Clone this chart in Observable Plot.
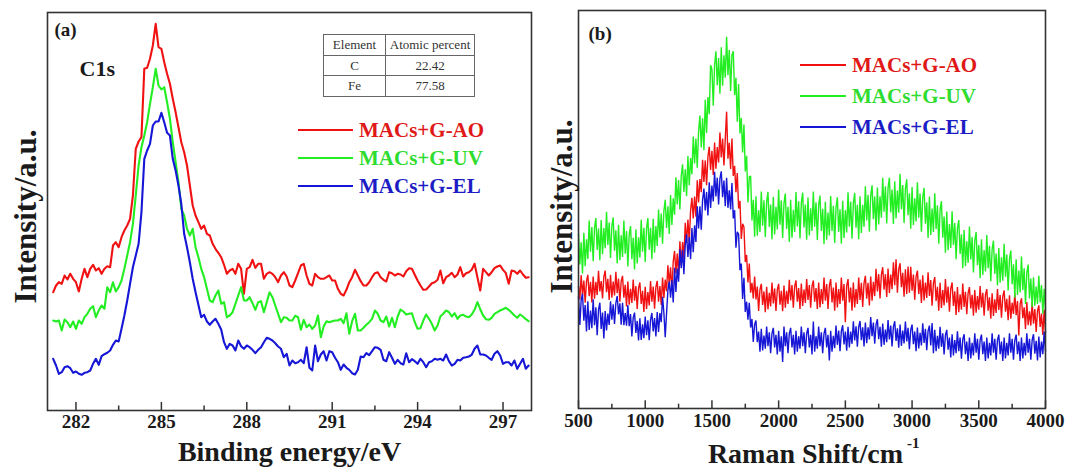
<!DOCTYPE html>
<html>
<head>
<meta charset="utf-8">
<script src="https://cdn.jsdelivr.net/npm/d3@7"></script>
<script src="https://cdn.jsdelivr.net/npm/@observablehq/plot@0.6"></script>
<style>
  html, body { margin: 0; padding: 0; background: #fff; }
  #wrap { position: relative; width: 1067px; height: 469px; overflow: hidden; background: #fff;
          font-family: "Liberation Serif", "Times New Roman", serif; }
  table.inset { position: absolute; border-collapse: collapse; font-size: 13px; color: #333;
                border: 1.8px solid #555; font-family: "Liberation Serif", serif; }
  table.inset td { border: 1px solid #666; text-align: center; padding: 0; height: 19.5px; line-height: 19.5px; }
  .leg { position: absolute; display: flex; align-items: center; font-weight: bold; font-size: 21px; white-space: nowrap; }
  .leg span.ln { display: inline-block; height: 2.5px; margin-right: 6px; }
</style>
</head>
<body>
<div id="wrap"></div>
<script>
// ---------------- Data ----------------
const seriesNames = ["MACs+G-AO", "MACs+G-UV", "MACs+G-EL"];
const lineColors = ["#f01212", "#22ee22", "#1616d6"];
const textColors = ["#e01818", "#2fdc2f", "#1c1cc4"];

// (a) XPS C1s: binding energy grid (eV), 0.1 eV steps 281.2 .. 297.9
const xpsEnergy = d3.range(2812, 2980).map(d => d / 10);
const xpsTicks = [282, 285, 288, 291, 294, 297];
const xpsMinorTicks = [283.5, 286.5, 289.5, 292.5, 295.5];

const xpsAO = [
  118.3,125,128.3,126.7,135,131,136.7,131.7,
  128.3,119,131.7,141.7,133.3,141.7,145.7,140,142.3,136.7,
  141.7,144.3,143.3,165,168.3,163.3,173.3,180,185,191.7,
  215,261.7,269,273.3,341.7,342.7,351.7,365,386.7,363.3,
  361.7,348.3,336.7,326.7,311.7,298.3,283.3,268.3,258.3,245,
  225,205,195,188.3,181.7,185,176.7,175,166.7,161.7,
  157.7,153.3,145.7,136.7,140,141.7,136.7,146.7,141.7,116.7,
  141.7,143.3,150.7,142.7,146.7,146.7,131.7,136.7,138.3,136.7,
  133.3,128.3,135,138.3,134,125,123.3,130,137.3,145,
  146.7,135,126.7,125,136.7,133.3,131.7,131.7,133.3,135,
  130,130,121.7,116.7,115,120.7,128.3,133.3,140.7,135,
  129.3,125,125,128.3,133.3,137.3,138.3,133.3,130.7,129,
  138.3,137.3,135,136.7,136,134,139.3,142.3,141.7,135.7,
  130,125,120.7,121,124,127.3,128.3,130.7,140,127.3,
  133.3,135,137.7,133.3,136,143.3,134,137.3,138.3,140.7,
  146.7,133.3,120,141.7,138.3,135,138.3,142.3,144,145,
  140.7,137.3,126.7,140,139.3,136.7,140,136,132.7,133.3
];
const xpsUV = [
  90,89,90,80,91,88.3,83.3,89,
  81.7,90,86.7,93.3,96.7,101.7,104.3,93.3,100,105,
  101.7,123.3,118.3,128.3,119,123.3,130,141.7,155,168.3,
  186.7,215,245,263.3,275,288.3,306.7,323.3,341.7,325,
  321,323.3,308.3,291.7,268.3,248.3,228.3,201.7,195,181.7,
  175,181.7,163.3,153.3,141.7,133.3,121.7,110,108.3,115,
  120,106.7,108.3,93.3,95,98.3,106.7,115,123.3,110,
  110,113.3,107.3,100.7,108.3,109.3,98.3,108.3,118.3,113.3,
  105,96.7,88.3,93.3,92.7,90,90,94.7,93.3,80.7,
  90.7,83.3,86,81.7,85,95,73.3,84,89.3,88.3,
  89.3,90,90,91.7,87.3,97.3,76.7,89.3,96.7,80,
  80,82.7,85.7,88.3,91.7,100,96.7,90,88.3,94,
  84,92.7,83.3,94,101,99,96,96.7,97.3,88.3,
  81.7,82.3,90,96,91.7,86.7,80,85,94,96.7,
  100,98.3,94,97.3,91.7,95,95.7,94,93.3,96,
  100.7,108.3,101.3,95,91.3,90.7,92.7,96.7,98.3,100,
  101.3,102.7,100.7,98,95,92.7,96,94,91.3,89.3
];
const xpsEL = [
  51.7,45,36.7,38.3,43.3,44.3,42.3,37.7,
  39,36.7,35.7,37.7,38.3,40,46.7,51.7,45.7,54.3,
  56.3,57.7,60,65.7,70,69,81.7,95,110,126.7,
  143.3,155,166.7,198.3,251.7,260,266.7,285,289,289,
  297.7,288.3,277.7,275,251.7,240,225,206.7,176.7,163.3,
  148.3,131.7,118.3,105.7,93.3,95.7,89,85.7,89,91.7,
  86.7,81,68.3,61.7,66.7,65,60,70,64.3,61.7,
  65,63.3,60.7,57.3,60.7,63.3,68.3,72.7,71.7,70,
  67.3,64,61.7,53.3,56.7,45,50,47.3,48.3,50.7,
  47.3,63.3,42.7,40,65,49.3,56,59.3,50,59.3,
  58.3,52.7,48.3,40.7,46,42.7,40.7,37.3,36,40.7,
  54,53.3,57.3,55.3,59.3,63.3,62.7,60.7,50.7,49.3,
  58.3,52.7,46.7,50.7,47.3,46,57.3,48.3,51.3,49.3,
  46.7,51.7,48.3,43.3,48.3,49.3,51.7,50.7,51.7,50,
  56,49.3,45,46.7,50.7,50,52.7,53.3,54,55.7,
  61.7,65,56,56,55,52.7,50.7,56.7,59.3,55,
  46.7,48.3,48.3,45,50,41.7,46.7,51.7,41.7,45
];

// (b) Raman: wavenumber grid (cm-1), 10 cm-1 steps 500 .. 4000
const ramanShift = d3.range(500, 4001, 10);
const ramanTicks = [500, 1000, 1500, 2000, 2500, 3000, 3500, 4000];
const ramanMinorTicks = [750, 1250, 1750, 2250, 2750, 3250, 3750];

const ramanAO = [
  369,329,402,340,386,319,384,403,339,382, 320,398,331,382,342,415,353,384,332,397,
  416,351,391,327,403,334,383,341,412,348, 392,322,384,400,334,373,308,383,313,361,
  318,389,325,369,300,363,380,315,355,291, 367,300,351,311,384,322,368,301,366,385,
  322,369,312,395,333,389,354,432,375,426, 355,443,475,407,467,400,504,431,502,452,
  560,499,570,503,597,635,573,639,578,688, 621,692,652,750,683,748,673,759,789,719,
  777,704,802,723,788,742,832,757,814,733, 813,895,753,801,722,814,701,732,652,710,
  603,626,511,557,547,442,463,380,437,349, 379,332,398,329,368,294,358,376,312,353,
  290,367,299,349,308,380,317,362,294,358, 376,313,355,293,371,304,355,315,388,326,
  372,304,368,386,322,363,300,377,309,359, 318,390,327,372,304,368,386,322,363,300,
  380,305,360,315,395,325,375,300,370,390, 320,365,295,380,305,360,315,395,325,375,
  260,370,390,320,365,295,380,305,360,315, 395,327,379,306,378,400,331,379,311,398,
  325,382,339,421,353,405,332,404,426,358, 405,336,422,348,404,360,441,372,450,349,
  420,438,366,409,337,420,345,428,349,427, 355,404,328,397,416,345,389,318,402,326,
  380,333,411,339,387,310,378,396,324,367, 295,379,303,357,311,390,319,368,292,361,
  380,309,353,282,366,290,344,298,377,306, 352,284,348,366,302,343,280,357,289,339,
  298,369,305,349,280,343,360,295,335,271, 347,279,329,288,360,297,342,274,338,356,
  292,331,266,341,271,319,285,347,281,324, 220,316,332,272,305,240,321,251,293,250,
  320,256,300,231,294,311,246,286,222,298, 229
];
const ramanUV = [
  528,434,501,407,530,429,510,451,567,473, 547,444,544,574,478,543,447,568,465,544,
  483,593,493,561,454,550,576,476,537,437, 554,447,522,457,567,467,535,428,524,550,
  450,515,419,540,437,516,455,569,473,545, 442,543,574,479,545,450,572,470,550,490,
  600,516,588,497,596,629,544,610,526,644, 553,634,584,697,615,689,600,701,736,653,
  721,640,761,673,755,706,820,739,814,726, 835,883,787,875,779,931,831,939,887,1035,
  1023,913,1035,1077,975,1057,949,1089,973,1065, 997,1121,1005,1081,957,1065,1077,945,997,865,
  978,829,876,772,856,715,762,621,699,701, 567,629,518,640,521,598,532,654,551,628,
  517,623,653,547,615,510,638,525,608,540, 660,554,628,514,619,648,541,608,502,629,
  515,599,532,653,549,625,513,620,651,546, 615,509,636,522,604,535,654,548,622,508,
  613,642,535,602,496,623,509,591,522,641, 535,611,499,606,637,532,601,497,626,514,
  598,531,652,548,624,512,619,650,545,614, 510,640,529,614,548,670,567,644,533,641,
  673,571,639,536,666,555,640,575,696,593, 670,558,665,696,591,660,556,685,573,657,
  590,708,601,674,559,663,691,583,649,542, 668,553,634,564,682,575,648,533,637,665,
  557,622,514,639,523,603,532,649,541,613, 497,599,625,515,579,470,594,477,556,484,
  595,493,559,450,544,568,466,525,423,538, 429,504,439,549,449,517,410,506,532,432,
  493,393,510,403,478,413,523,423,491,384, 480,506,406,467,371,484,379,456,385,497,
  397,464,356,451,476,375,435,334,450,342, 416,350,458,357,423,315,409,434,332,392,
  305,396,310,368,315,400,320,372,286,361, 300
];
const ramanEL = [
  338,252,327,346,265,312,232,323,237,295, 242,329,251,305,221,298,319,240,289,211,
  294,235,286,252,323,268,314,255,318,339, 284,317,253,319,251,288,250,312,248,285,
  217,274,289,228,264,205,272,207,254,212, 277,221,266,206,268,288,232,273,217,291,
  231,288,260,337,288,215,287,356,383,334, 387,320,424,351,422,382,480,423,478,405,
  493,525,457,517,450,544,471,552,502,610, 543,610,539,629,663,597,653,582,682,605,
  672,624,714,639,696,615,693,715,637,687, 610,696,605,658,600,680,573,598,485,533,
  525,417,437,330,394,291,322,268,319,244, 270,201,254,265,200,232,171,240,175,220,
  180,247,188,230,167,226,243,184,222,163, 234,171,218,140,247,188,230,167,226,243,
  184,222,163,234,171,218,180,247,188,230, 167,226,243,184,222,163,262,171,218,180,
  247,188,230,167,226,243,184,222,145,234, 171,219,182,250,192,235,173,233,251,193,
  232,174,246,184,232,195,263,205,248,186, 246,264,206,245,187,259,197,245,208,276,
  218,259,195,253,269,209,246,186,256,192, 238,200,267,208,250,187,246,263,204,242,
  183,253,189,235,196,262,202,243,179,237, 253,194,232,173,244,181,228,190,257,198,
  240,176,234,250,190,258,167,237,173,219, 180,246,186,227,163,221,237,177,214,154,
  224,160,206,167,233,173,214,150,208,224, 164,202,143,214,151,198,160,227,168,210,
  147,206,223,164,202,143,214,151,198,160, 227,168,210,147,206,223,164,202,143,214,
  151,198,160,227,168,210,147,206,223,164, 202,143,214,151,198,160,227,168,210,147,
  206,224,165,204,145,217,154,202,164,232, 173
];

// ---------------- Tables for Plot ----------------
function longTable(xs, lists) {
  const rows = [];
  lists.forEach((vals, i) => vals.forEach((v, j) => rows.push({x: xs[j], v, s: seriesNames[i]})));
  return rows;
}
const xpsRows = longTable(xpsEnergy, [xpsAO, xpsUV, xpsEL]);
const ramanRows = longTable(ramanShift, [ramanAO, ramanUV, ramanEL]);

const SERIF = '"Liberation Serif", "Times New Roman", serif';
const INK = "#1a1a1a";
const FRAME = "#333";
const baseStyle = {fontFamily: SERIF, fontWeight: "bold", fontSize: "19px", color: INK, background: "transparent", overflow: "visible"};
const txt = (s, o) => Plot.text([s], {fontWeight: "bold", fill: INK, textAnchor: "middle", lineAnchor: "middle", ...o});

// ---------------- Panel (a) ----------------
const plotA = Plot.plot({
  width: 540, height: 469,
  marginLeft: 47, marginRight: 9, marginTop: 12, marginBottom: 59,
  style: baseStyle,
  x: {domain: [281, 298]},
  y: {domain: [0, 398], axis: null},
  color: {domain: seriesNames, range: lineColors},
  marks: [
    Plot.line(xpsRows, {x: "x", y: "v", z: "s", stroke: "s", strokeWidth: 2.1, strokeLinejoin: "round"}),
    Plot.ruleX(xpsTicks, {x: d => d, y1: 0, y2: 8, stroke: FRAME, strokeWidth: 1.5}),
    Plot.ruleX(xpsMinorTicks, {x: d => d, y1: 0, y2: 4.5, stroke: FRAME, strokeWidth: 1.5}),
    Plot.axisX(xpsTicks, {tickSize: 0, tickPadding: 4, label: null, fontSize: 19, fontWeight: "bold", fill: INK, tickFormat: d => String(d)}),
    Plot.frame({stroke: FRAME, strokeWidth: 1.6}),
    txt("Binding energy/eV", {frameAnchor: "bottom", dy: 42, fontSize: 28}),
    txt("Intensity/a.u.", {frameAnchor: "left", dx: -21, dy: 5, rotate: -90, fontSize: 31}),
    txt("(a)", {frameAnchor: "top-left", dx: 7, dy: 17.5, textAnchor: "start", fontSize: 19}),
    txt("C1s", {frameAnchor: "top-left", dx: 32, dy: 56, textAnchor: "start", fontSize: 22})
  ]
});

// ---------------- Panel (b) ----------------
const plotB = Plot.plot({
  width: 527, height: 469,
  marginLeft: 38, marginRight: 22, marginTop: 10, marginBottom: 61,
  style: baseStyle,
  x: {domain: [500, 4000]},
  y: {domain: [0, 1200], axis: null},
  color: {domain: seriesNames, range: lineColors},
  marks: [
    Plot.line(ramanRows, {x: "x", y: "v", z: "s", stroke: "s", strokeWidth: 1.4, strokeLinejoin: "miter"}),
    Plot.ruleX(ramanTicks, {x: d => d, y1: 0, y2: 23, stroke: FRAME, strokeWidth: 1.5}),
    Plot.ruleX(ramanMinorTicks, {x: d => d, y1: 0, y2: 13, stroke: FRAME, strokeWidth: 1.5}),
    Plot.axisX(ramanTicks, {tickSize: 0, tickPadding: 5, label: null, fontSize: 19, fontWeight: "bold", fill: INK, tickFormat: d => String(d)}),
    Plot.frame({stroke: FRAME, strokeWidth: 1.6}),
    txt("Raman Shift/cm", {frameAnchor: "bottom", dx: -6.5, dy: 46, fontSize: 28}),
    txt("-1", {frameAnchor: "bottom", dx: 95, dy: 35, textAnchor: "start", fontSize: 15}),
    txt("Intensity/a.u.", {frameAnchor: "left", dx: -16, dy: -3, rotate: -90, fontSize: 31}),
    txt("(b)", {frameAnchor: "top-left", dx: 10, dy: 23.5, textAnchor: "start", fontSize: 19})
  ]
});

// ---------------- Assemble ----------------
const wrap = document.getElementById("wrap");
plotA.style.position = "absolute"; plotA.style.left = "0px"; plotA.style.top = "0px";
plotB.style.position = "absolute"; plotB.style.left = "540px"; plotB.style.top = "0px";
wrap.appendChild(plotA);
wrap.appendChild(plotB);

// inset table (panel a)
const tableHeader = ["Element", "Atomic percent"];
const tableElements = ["C", "Fe"];
const tablePercents = ["22.42", "77.58"];
const tbl = document.createElement("table");
tbl.className = "inset";
tbl.style.left = "323px"; tbl.style.top = "34px"; tbl.style.width = "152px";
tbl.innerHTML = [tableHeader].concat(tableElements.map((e, i) => [e, tablePercents[i]]))
  .map(r => `<tr><td style="width:61px">${r[0]}</td><td>${r[1]}</td></tr>`).join("");
wrap.appendChild(tbl);

// legends
function addLegend(left, ys, lineW) {
  seriesNames.forEach((name, i) => {
    const d = document.createElement("div");
    d.className = "leg";
    d.style.left = left + "px";
    d.style.top = (ys[i] - 14) + "px";
    d.style.height = "28px";
    d.style.color = textColors[i];
    d.innerHTML = `<span class="ln" style="width:${lineW}px;background:${lineColors[i]}"></span>${name}`;
    wrap.appendChild(d);
  });
}
addLegend(298, [130, 158, 186], 55);
addLegend(800, [65, 96, 127], 46);
</script>
</body>
</html>
